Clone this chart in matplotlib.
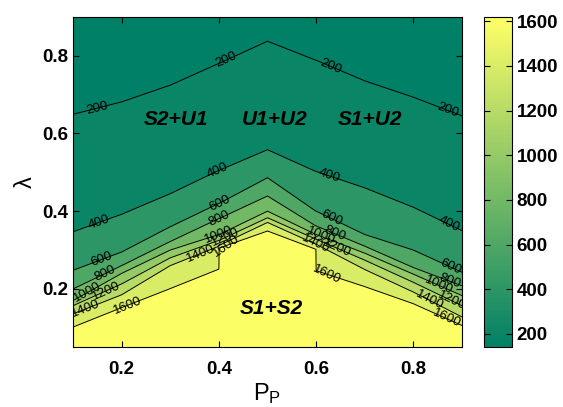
import numpy as np
import matplotlib
matplotlib.use("Agg")
import matplotlib.pyplot as plt
from matplotlib import cm, colors

plt.rcParams['font.family'] = ['Liberation Sans', 'DejaVu Sans']

# grid columns (0.4 and 0.6 are doubled: the field jumps there)
x_cols = [0.1, 0.2, 0.3, 0.4, 0.4005, 0.5, 0.5995, 0.6, 0.7, 0.8, 0.9]

# lambda where each contour level is crossed, one value per column
levels = [200, 400, 600, 800, 1000, 1200, 1400, 1600]
y_200 = [0.649, 0.681, 0.724, 0.780, 0.780, 0.837, 0.788, 0.788, 0.735, 0.693, 0.645]
y_400 = [0.347, 0.392, 0.445, 0.505, 0.505, 0.558, 0.502, 0.502, 0.460, 0.410, 0.350]
y_600 = [0.248, 0.295, 0.360, 0.420, 0.420, 0.486, 0.400, 0.400, 0.340, 0.300, 0.243]
y_800 = [0.200, 0.260, 0.322, 0.381, 0.381, 0.439, 0.362, 0.362, 0.310, 0.255, 0.208]
y_1000 = [0.170, 0.240, 0.300, 0.340, 0.340, 0.400, 0.340, 0.340, 0.292, 0.238, 0.183]
y_1200 = [0.157, 0.213, 0.280, 0.325, 0.325, 0.383, 0.328, 0.328, 0.274, 0.217, 0.157]
y_1400 = [0.136, 0.185, 0.260, 0.310, 0.312, 0.371, 0.315, 0.315, 0.250, 0.192, 0.128]
y_1600 = [0.102, 0.152, 0.201, 0.251, 0.305, 0.349, 0.302, 0.247, 0.206, 0.162, 0.106]
z_min = 140
z_max = 1620

region_names = ['S2+U1', 'U1+U2', 'S1+U2', 'S1+S2']
region_x = [0.312, 0.514, 0.711, 0.508]
region_y = [0.635, 0.635, 0.635, 0.149]

# curvilinear grid: one row per contour crossing, plus bottom and top edges
rows_y = [[0.05] * len(x_cols), y_1600, y_1400, y_1200, y_1000,
          y_800, y_600, y_400, y_200, [0.9] * len(x_cols)]
rows_z = [z_max] + levels[::-1] + [z_min]
Y = np.array(rows_y)
X = np.tile(x_cols, (len(rows_y), 1))
Z = np.repeat(np.array(rows_z, dtype=float)[:, None], len(x_cols), axis=1)

fig = plt.figure(figsize=(5.63, 4.07), dpi=100)
ax = fig.add_axes([0.1297, 0.1467, 0.6909, 0.8123])
cax = fig.add_axes([0.8597, 0.1467, 0.0497, 0.8123])

cmap = plt.get_cmap('summer')
norm = colors.Normalize(vmin=z_min, vmax=z_max)
fill_levels = [0] + levels + [5000]
band_colors = [cmap(norm(v)) for v in [z_min] + levels]
ax.contourf(X, Y, Z, levels=fill_levels, colors=band_colors)

# label spots for each level
label_pos = {
    200: [(0.149, 0.668), (0.419, 0.778), (0.629, 0.77), (0.87, 0.655)],
    400: [(0.156, 0.366), (0.392, 0.515), (0.629, 0.498), (0.87, 0.359)],
    600: [(0.156, 0.282), (0.402, 0.422), (0.635, 0.392), (0.876, 0.256)],
    800: [(0.166, 0.238), (0.405, 0.371), (0.643, 0.353), (0.872, 0.208)],
    1000: [(0.131, 0.187), (0.398, 0.345), (0.614, 0.349), (0.851, 0.205)],
    1200: [(0.169, 0.192), (0.416, 0.328), (0.642, 0.302), (0.878, 0.166)],
    1400: [(0.125, 0.153), (0.362, 0.29), (0.601, 0.323), (0.828, 0.157)],
    1600: [(0.21, 0.162), (0.416, 0.307), (0.622, 0.238), (0.868, 0.123)],
}
for lev in levels:
    cs = ax.contour(X, Y, Z, levels=[lev], colors='k', linewidths=0.7)
    ax.clabel(cs, manual=label_pos[lev], inline=False,
              fontsize=9.5, fmt='%d', colors='k')

for name, rx, ry in zip(region_names, region_x, region_y):
    ax.text(rx, ry, name, ha='center', va='center', fontsize=15,
            fontweight='bold', fontstyle='italic')

ax.set_xlim(0.1, 0.9)
ax.set_ylim(0.05, 0.9)
ax.set_xticks([0.2, 0.4, 0.6, 0.8])
ax.set_yticks([0.2, 0.4, 0.6, 0.8])
ax.tick_params(direction='in', top=True, right=True, length=4, width=0.8,
               labelsize=13.5)
ax.tick_params(axis='x', pad=10)
for lab in ax.get_xticklabels() + ax.get_yticklabels():
    lab.set_fontweight('bold')
ax.set_xlabel(r'$\mathregular{P_P}$', fontsize=17, labelpad=2)
ax.set_ylabel('λ', fontsize=17)

sm = cm.ScalarMappable(norm=norm, cmap=cmap)
cb = fig.colorbar(sm, cax=cax, ticks=levels)
cb.ax.tick_params(direction='in', left=True, right=True, length=4,
                  labelsize=13.5)
for lab in cb.ax.get_yticklabels():
    lab.set_fontweight('bold')

fig.savefig('out.png', dpi=100)
